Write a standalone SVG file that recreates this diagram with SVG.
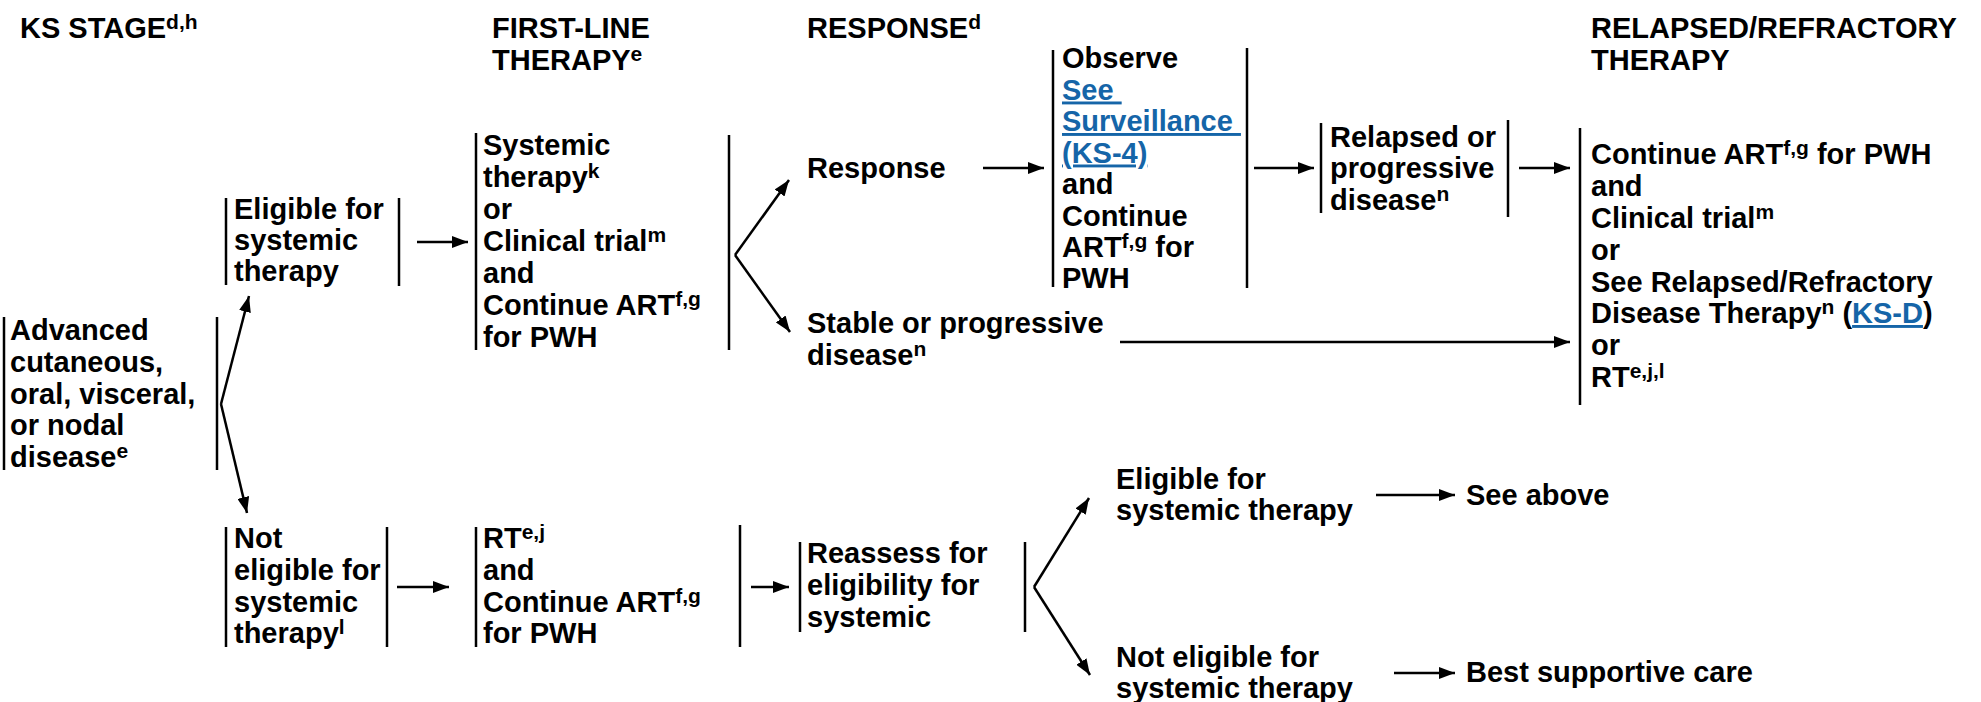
<svg xmlns="http://www.w3.org/2000/svg" width="1981" height="702" viewBox="0 0 1981 702">
<style>
.t{font-family:"Liberation Sans",Arial,sans-serif;font-weight:bold;font-size:29px;fill:#000}
.s{font-size:21px}
.lk{fill:#1565a8;text-decoration:underline}
.bar{stroke:#000;stroke-width:2.5}
.cn{stroke:#000;stroke-width:2.5;fill:none;marker-end:url(#ah)}
</style>
<defs>
<marker id="ah" markerUnits="userSpaceOnUse" markerWidth="17" markerHeight="12" refX="16" refY="6" orient="auto">
<path d="M0,0 L16,6 L0,12 z" fill="#000"/>
</marker>
</defs>
<rect width="1981" height="702" fill="#fff"/>

<g id="headers">
<text class="t"><tspan x="20" y="38">KS STAGE</tspan><tspan class="s" dy="-9">d,h</tspan></text>
<text class="t"><tspan x="492" y="38">FIRST-LINE</tspan><tspan x="492" y="70">THERAPY</tspan><tspan class="s" dy="-9">e</tspan></text>
<text class="t"><tspan x="807" y="38">RESPONSE</tspan><tspan class="s" dy="-9">d</tspan></text>
<text class="t"><tspan x="1591" y="38">RELAPSED/REFRACTORY</tspan><tspan x="1591" y="70">THERAPY</tspan></text>
</g>

<g id="n-advanced">
<line class="bar" x1="4" y1="317" x2="4" y2="470"/>
<line class="bar" x1="217" y1="317" x2="217" y2="470"/>
<text class="t"><tspan x="10" y="340">Advanced</tspan><tspan x="10" y="372">cutaneous,</tspan><tspan x="10" y="404">oral, visceral,</tspan><tspan x="10" y="435">or nodal</tspan><tspan x="10" y="467">disease</tspan><tspan class="s" dy="-9">e</tspan></text>
</g>

<g id="n-eligible">
<line class="bar" x1="226" y1="198" x2="226" y2="285"/>
<line class="bar" x1="399" y1="198" x2="399" y2="286"/>
<text class="t"><tspan x="234" y="219">Eligible for</tspan><tspan x="234" y="250">systemic</tspan><tspan x="234" y="281">therapy</tspan></text>
</g>

<g id="n-noteligible">
<line class="bar" x1="226" y1="527" x2="226" y2="647"/>
<line class="bar" x1="387" y1="527" x2="387" y2="647"/>
<text class="t"><tspan x="234" y="548">Not</tspan><tspan x="234" y="580">eligible for</tspan><tspan x="234" y="612">systemic</tspan><tspan x="234" y="643">therapy</tspan><tspan class="s" dy="-9">l</tspan></text>
</g>

<g id="n-firstline">
<line class="bar" x1="476" y1="133" x2="476" y2="350"/>
<line class="bar" x1="729" y1="135" x2="729" y2="350"/>
<text class="t"><tspan x="483" y="155">Systemic</tspan><tspan x="483" y="187">therapy</tspan><tspan class="s" dy="-9">k</tspan><tspan x="483" y="219">or</tspan><tspan x="483" y="251">Clinical trial</tspan><tspan class="s" dy="-9">m</tspan><tspan x="483" y="283">and</tspan><tspan x="483" y="315">Continue ART</tspan><tspan class="s" dy="-9">f,g</tspan><tspan x="483" y="347">for PWH</tspan></text>
</g>

<g id="n-rt">
<line class="bar" x1="476" y1="527" x2="476" y2="647"/>
<line class="bar" x1="740" y1="525" x2="740" y2="647"/>
<text class="t"><tspan x="483" y="548">RT</tspan><tspan class="s" dy="-9">e,j</tspan><tspan x="483" y="580">and</tspan><tspan x="483" y="612">Continue ART</tspan><tspan class="s" dy="-9">f,g</tspan><tspan x="483" y="643">for PWH</tspan></text>
</g>

<g id="n-response">
<text class="t"><tspan x="807" y="178">Response</tspan></text>
</g>

<g id="n-stable">
<text class="t"><tspan x="807" y="333">Stable or progressive</tspan><tspan x="807" y="365">disease</tspan><tspan class="s" dy="-9">n</tspan></text>
</g>

<g id="n-observe">
<line class="bar" x1="1053" y1="50" x2="1053" y2="287"/>
<line class="bar" x1="1247" y1="48" x2="1247" y2="288"/>
<text class="t"><tspan x="1062" y="68">Observe</tspan><tspan class="lk" x="1062" y="99.5">See&#160;</tspan><tspan class="lk" x="1062" y="131">Surveillance&#160;</tspan><tspan class="lk" x="1062" y="162.5">(KS-4)</tspan><tspan x="1062" y="194">and</tspan><tspan x="1062" y="225.5">Continue</tspan><tspan x="1062" y="257">ART</tspan><tspan class="s" dy="-9">f,g</tspan><tspan dy="9"> for</tspan><tspan x="1062" y="288">PWH</tspan></text>
</g>

<g id="n-relapsed">
<line class="bar" x1="1321" y1="123" x2="1321" y2="213"/>
<line class="bar" x1="1508" y1="120" x2="1508" y2="217"/>
<text class="t"><tspan x="1330" y="147">Relapsed or</tspan><tspan x="1330" y="178">progressive</tspan><tspan x="1330" y="210">disease</tspan><tspan class="s" dy="-9">n</tspan></text>
</g>

<g id="n-refractory">
<line class="bar" x1="1580" y1="128" x2="1580" y2="405"/>
<text class="t"><tspan x="1591" y="164">Continue ART</tspan><tspan class="s" dy="-9">f,g</tspan><tspan dy="9"> for PWH</tspan><tspan x="1591" y="196">and</tspan><tspan x="1591" y="228">Clinical trial</tspan><tspan class="s" dy="-9">m</tspan><tspan x="1591" y="260">or</tspan><tspan x="1591" y="292">See Relapsed/Refractory</tspan><tspan x="1591" y="323">Disease Therapy</tspan><tspan class="s" dy="-9">n</tspan><tspan dy="9"> (</tspan><tspan class="lk">KS-D</tspan><tspan>)</tspan><tspan x="1591" y="355">or</tspan><tspan x="1591" y="387">RT</tspan><tspan class="s" dy="-9">e,j,l</tspan></text>
</g>

<g id="n-reassess">
<line class="bar" x1="800" y1="542" x2="800" y2="632"/>
<line class="bar" x1="1025" y1="542" x2="1025" y2="632"/>
<text class="t"><tspan x="807" y="563">Reassess for</tspan><tspan x="807" y="595">eligibility for</tspan><tspan x="807" y="627">systemic</tspan></text>
</g>

<g id="n-eligible2">
<text class="t"><tspan x="1116" y="489">Eligible for</tspan><tspan x="1116" y="520">systemic therapy</tspan></text>
</g>

<g id="n-noteligible2">
<text class="t"><tspan x="1116" y="667">Not eligible for</tspan><tspan x="1116" y="698">systemic therapy</tspan></text>
</g>

<g id="n-seeabove">
<text class="t"><tspan x="1466" y="505">See above</tspan></text>
</g>

<g id="n-bsc">
<text class="t"><tspan x="1466" y="682">Best supportive care</tspan></text>
</g>

<g id="connectors">
<line class="cn" x1="221" y1="404" x2="249" y2="296"/>
<line class="cn" x1="221" y1="404" x2="247" y2="513"/>
<line class="cn" x1="417" y1="242" x2="468" y2="242"/>
<line class="cn" x1="397" y1="587" x2="449" y2="587"/>
<line class="cn" x1="735" y1="255" x2="789" y2="180"/>
<line class="cn" x1="735" y1="255" x2="790" y2="332"/>
<line class="cn" x1="983" y1="168" x2="1044" y2="168"/>
<line class="cn" x1="1254" y1="168" x2="1314" y2="168"/>
<line class="cn" x1="1519" y1="168" x2="1570" y2="168"/>
<line class="cn" x1="1120" y1="342" x2="1570" y2="342"/>
<line class="cn" x1="751" y1="587" x2="789" y2="587"/>
<line class="cn" x1="1034" y1="587" x2="1089" y2="498"/>
<line class="cn" x1="1034" y1="587" x2="1090" y2="675"/>
<line class="cn" x1="1376" y1="495" x2="1455" y2="495"/>
<line class="cn" x1="1394" y1="673" x2="1455" y2="673"/>
</g>
</svg>
